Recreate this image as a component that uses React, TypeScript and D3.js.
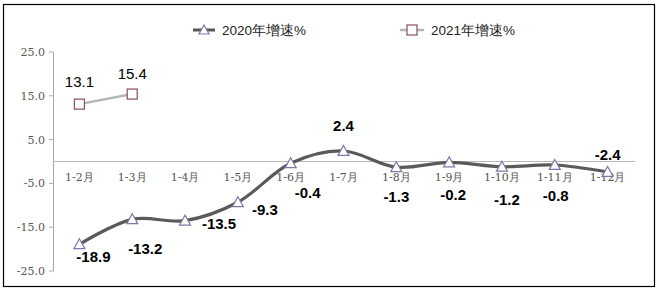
import { useMemo } from 'react';
import * as d3 from 'd3';

const months = ['1-2月', '1-3月', '1-4月', '1-5月', '1-6月', '1-7月', '1-8月', '1-9月', '1-10月', '1-11月', '1-12月'];
const growth2020 = [-18.9, -13.2, -13.5, -9.3, -0.4, 2.4, -1.3, -0.2, -1.2, -0.8, -2.4];
const growth2021 = [13.1, 15.4];
const yTicks = [25, 15, 5, -5, -15, -25];

// label offsets (dx, dy) relative to each point, as placed in the source
const offsets2020: [number, number][] = [
  [14, 18], [13, 35], [34, 8], [27, 13], [17, 35], [0, -20], [0, 35], [4, 38], [5, 38], [1, 36], [0, -12],
];
const offsets2021: [number, number][] = [[0, -17], [0, -15]];

export default function App() {
  const W = 659;
  const H = 294;

  const x = useMemo(() => d3.scaleBand<string>().domain(months).range([53, 634]), []);
  const y = useMemo(() => d3.scaleLinear().domain([-25, 25]).range([271, 52]), []);

  const cx = (m: string) => (x(m) ?? 0) + x.bandwidth() / 2;

  const line = d3.line<number>()
    .x((_, i) => cx(months[i]))
    .y(d => y(d))
    .curve(d3.curveCatmullRom.alpha(0.5));

  const line21 = d3.line<number>()
    .x((_, i) => cx(months[i]))
    .y(d => y(d));

  const tri = (px: number, py: number, s = 5.5) =>
    `M${px},${py - s} L${px + s},${py + s * 0.8} L${px - s},${py + s * 0.8} Z`;

  const serif = '"DejaVu Serif", "Liberation Serif", serif';
  const sans = '"Liberation Sans", Arial, sans-serif';

  return (
    <svg width={W} height={H} style={{ position: 'absolute', left: 0, top: 0, background: '#fff' }}>
      <rect x={3.5} y={4.5} width={651} height={282} fill="#fff" stroke="#000" strokeWidth={1.2} />

      {/* legend */}
      <g>
        <line x1={193} x2={215} y1={30} y2={30} stroke="#555" strokeWidth={3} />
        <path d={tri(204, 30, 5)} fill="#fff" stroke="#7b78a8" strokeWidth={1.2} />
        <text x={222} y={35} fontFamily={sans} fontSize={13.5} fill="#222">2020年增速%</text>
        <line x1={400} x2={424} y1={30} y2={30} stroke="#b5b5b5" strokeWidth={2.5} />
        <rect x={407} y={25} width={10} height={10} fill="#fff" stroke="#8c4a6c" strokeWidth={1.2} />
        <text x={431} y={35} fontFamily={sans} fontSize={13.5} fill="#222">2021年增速%</text>
      </g>

      {/* y axis */}
      <line x1={53.5} x2={53.5} y1={y(25)} y2={y(-25)} stroke="#aaa" strokeWidth={1} />
      {yTicks.map(t => (
        <g key={t}>
          <line x1={49} x2={53.5} y1={y(t)} y2={y(t)} stroke="#aaa" />
          <text x={45} y={y(t) + 4} textAnchor="end" fontFamily={serif} fontSize={11} fill="#555">
            {t.toFixed(1)}
          </text>
        </g>
      ))}

      {/* zero line */}
      <line x1={53} x2={635} y1={y(0)} y2={y(0)} stroke="#b8b8b8" strokeWidth={1.2} />

      {/* category labels */}
      {months.map(m => (
        <text key={m} x={cx(m)} y={181} textAnchor="middle" fontFamily={serif} fontSize={11} fill="#555">
          {m}
        </text>
      ))}

      {/* 2020 series */}
      <path d={line(growth2020) || undefined} fill="none" stroke="#5a5a5a" strokeWidth={3.2} />
      {growth2020.map((v, i) => (
        <path key={i} d={tri(cx(months[i]), y(v))} fill="#fff" stroke="#7b78a8" strokeWidth={1.2} />
      ))}
      {growth2020.map((v, i) => (
        <text key={i} x={cx(months[i]) + offsets2020[i][0]} y={y(v) + offsets2020[i][1]}
          textAnchor="middle" fontFamily={sans} fontSize={15} fontWeight="bold" fill="#000">
          {v.toFixed(1)}
        </text>
      ))}

      {/* 2021 series */}
      <path d={line21(growth2021) || undefined} fill="none" stroke="#b5b5b5" strokeWidth={2.5} />
      {growth2021.map((v, i) => (
        <rect key={i} x={cx(months[i]) - 5} y={y(v) - 5} width={10} height={10} fill="#fff" stroke="#8c4a6c" strokeWidth={1.2} />
      ))}
      {growth2021.map((v, i) => (
        <text key={i} x={cx(months[i]) + offsets2021[i][0]} y={y(v) + offsets2021[i][1]}
          textAnchor="middle" fontFamily={sans} fontSize={15} fill="#000">
          {v.toFixed(1)}
        </text>
      ))}
    </svg>
  );
}
